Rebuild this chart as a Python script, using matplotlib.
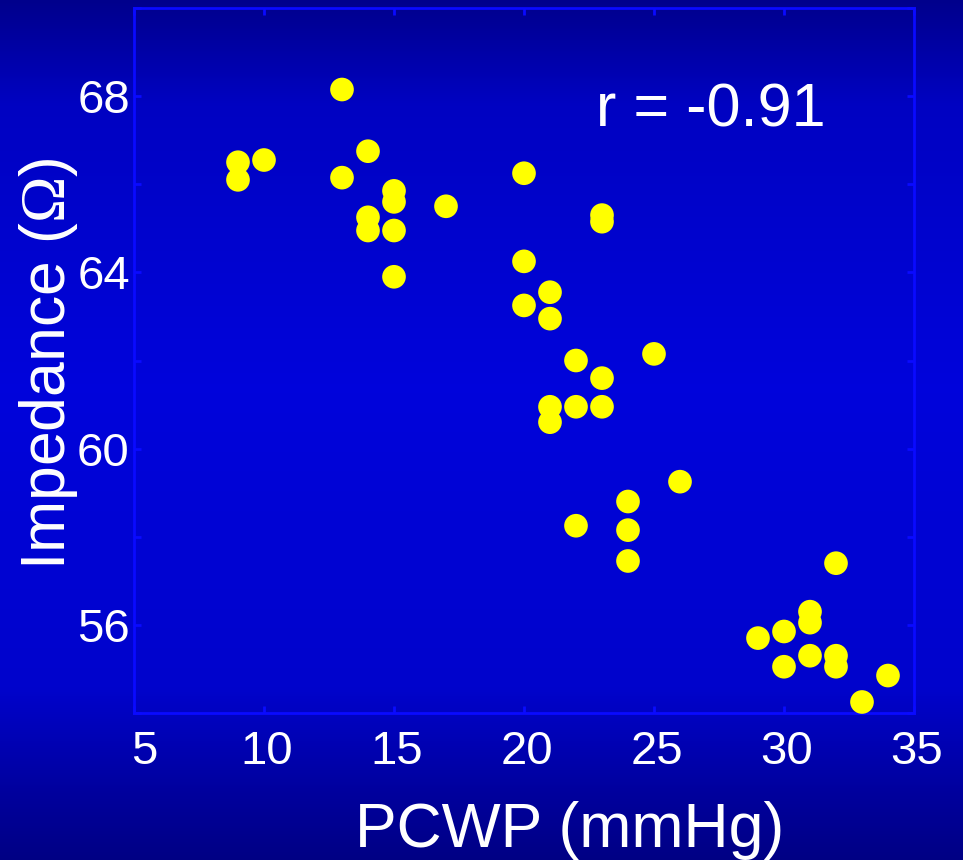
import numpy as np
import matplotlib
matplotlib.use("Agg")
import matplotlib.pyplot as plt
from matplotlib.transforms import ScaledTranslation

plt.rcParams['font.family'] = ['Liberation Sans', 'DejaVu Sans']
plt.rcParams['mathtext.fontset'] = 'custom'
plt.rcParams['mathtext.rm'] = 'Liberation Serif'

# PCWP (mmHg) against thoracic impedance (ohm)
pcwp = [9, 9, 10, 13, 13, 14, 14, 14, 15, 15, 15, 15, 17,
        20, 20, 20, 21, 21, 21, 21, 22, 22, 22, 23, 23, 23, 23,
        24, 24, 24, 25, 26, 29, 30, 30, 31, 31, 31, 32, 32, 32, 33, 34]
impedance = [66.5, 66.1, 66.55, 68.15, 66.15, 66.75, 65.25, 64.95, 65.85, 65.6, 64.95, 63.9, 65.5,
             66.25, 64.25, 63.25, 63.55, 62.95, 60.95, 60.6, 62.0, 60.95, 58.25, 65.3, 65.15, 61.6, 60.95,
             58.8, 58.15, 57.45, 62.15, 59.25, 55.7, 55.85, 55.05, 56.3, 56.05, 55.3, 57.4, 55.3, 55.05, 54.25, 54.85]
r_value = -0.91

x_ticks = [5, 10, 15, 20, 25, 30, 35]
y_ticks = [54, 56, 58, 60, 62, 64, 66, 68, 70]
y_labeled = [56, 60, 64, 68]

fig = plt.figure(figsize=(9.63, 8.6), dpi=100)

# vertical blue gradient behind everything
bg = fig.add_axes([0, 0, 1, 1], zorder=0)
stops_pos = [0.0, 0.12, 0.45, 0.80, 0.92, 1.0]
stops_blue = [0.55, 0.76, 0.86, 0.80, 0.62, 0.52]
rows = np.linspace(0, 1, 400)
blue = np.interp(rows, stops_pos, stops_blue)
grad = np.zeros((400, 2, 3))
grad[:, :, 2] = blue[:, None]
grad[:, :, 1] = (blue[:, None] - 0.55).clip(0) * 0.05
bg.imshow(grad, aspect='auto', extent=[0, 1, 0, 1], interpolation='bilinear')
bg.axis('off')

ax = fig.add_axes([134 / 963, 1 - 713 / 860, 780 / 963, 705 / 860], zorder=1)
ax.set_facecolor('none')

ax.scatter(pcwp, impedance, s=290, color='#FFFF00', edgecolors='none', zorder=3, clip_on=False)

ax.set_xlim(5, 35)
ax.set_ylim(54, 70)
ax.set_xticks(x_ticks)
ax.set_xticklabels([str(v) for v in x_ticks])
ax.set_yticks(y_ticks)
ax.set_yticklabels([str(v) if v in y_labeled else '' for v in y_ticks])

spine_col = '#0A0AFF'
for sp in ax.spines.values():
    sp.set_color(spine_col)
    sp.set_linewidth(2)
ax.tick_params(which='both', direction='in', length=5, width=2, color=spine_col,
               top=True, right=True, labelcolor='white', labelsize=34)
ax.tick_params(axis='x', pad=12)
ax.tick_params(axis='y', pad=3)

# nudge x labels a little right, the first one more
for i, lbl in enumerate(ax.get_xticklabels()):
    dx = 10 if i == 0 else 2.5
    lbl.set_transform(lbl.get_transform() + ScaledTranslation(dx / 100, 0, fig.dpi_scale_trans))

ax.text(27.2, 67.3, 'r = %.2f' % r_value, color='white', fontsize=44,
        ha='center', va='baseline')

fig.text(570 / 963, 1 - 847 / 860, 'PCWP (mmHg)', color='white', fontsize=45,
         ha='center', va='baseline')
fig.text(48 / 963, 1 - 364 / 860, r'Impedance ($\mathrm{\Omega}$)', color='white',
         fontsize=45, rotation=90, ha='center', va='center')

fig.savefig('out.png', dpi=100)
